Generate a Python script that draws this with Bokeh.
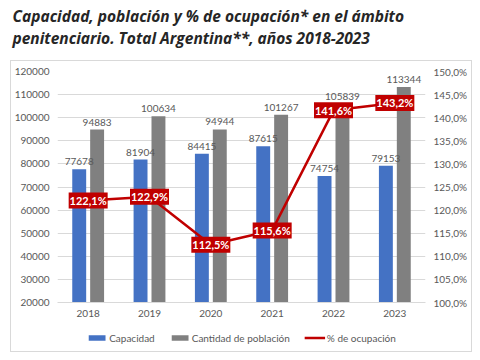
from bokeh.plotting import figure
from bokeh.layouts import column
from bokeh.models import (ColumnDataSource, FactorRange, Range1d, LinearAxis, FixedTicker,
                          Legend, LegendItem, Label, Column)
from bokeh.transform import dodge
from bokeh.core.properties import value
from bokeh.embed import file_html
from bokeh.resources import INLINE

years = ["2018", "2019", "2020", "2021", "2022", "2023"]
capacidad = [77678, 81904, 84415, 87615, 74754, 79153]
poblacion = [94883, 100634, 94944, 101267, 105839, 113344]
ocupacion = [122.1, 122.9, 112.5, 115.6, 141.6, 143.2]
left_ticks = [20000, 30000, 40000, 50000, 60000, 70000, 80000, 90000, 100000, 110000, 120000]
right_ticks = [100, 105, 110, 115, 120, 125, 130, 135, 140, 145, 150]
title_lines = ["Capacidad, población y % de ocupación* en el ámbito",
               "penitenciario. Total Argentina**, años 2018-2023"]
series_names = ["Capacidad", "Cantidad de población", "% de ocupación"]

BLUE = "#4472C4"
GRAY = "#808080"
RED = "#C00000"
TXT = "#595959"
FONT = "Lato"


def bare(fig):
    fig.grid.visible = False
    fig.outline_line_color = None
    fig.background_fill_color = None
    fig.border_fill_color = None
    return fig


def style_axis(ax, standoff):
    ax.major_tick_line_color = None
    ax.minor_tick_line_color = None
    ax.major_tick_out = 0
    ax.major_tick_in = 0
    ax.minor_tick_out = 0
    ax.minor_tick_in = 0
    ax.major_label_standoff = standoff
    ax.major_label_text_font = FONT
    ax.major_label_text_font_size = "10px"
    ax.major_label_text_color = TXT


# ---- heading figure (titles) ----
head = bare(figure(width=480, height=60, x_range=Range1d(0, 480), y_range=Range1d(60, 0),
                   output_backend="svg", toolbar_location=None,
                   min_border=0, min_border_left=0, min_border_right=0,
                   min_border_top=0, min_border_bottom=0,
                   x_axis_location=None, y_axis_location=None))
for i, t in enumerate(title_lines):
    head.add_layout(Label(x=12, y=15 + 22 * i, text=t,
                          text_font="Open Sans", text_font_size="15.5px",
                          text_font_style="bold italic",
                          text_color="#262626", text_baseline="middle", text_align="left"))

# ---- main chart ----
src = ColumnDataSource(dict(
    year=years, cap=capacidad, pob=poblacion, pct=ocupacion,
    cap_s=[str(v) for v in capacidad], pob_s=[str(v) for v in poblacion],
    pct_s=[("%.1f%%" % v).replace(".", ",") for v in ocupacion],
))

p = figure(x_range=FactorRange(*years), y_range=Range1d(20000, 120000),
           width=460, height=263, output_backend="svg", toolbar_location=None,
           min_border_left=44, min_border_right=46, min_border_top=10, min_border_bottom=22)
p.extra_y_ranges = {"pct": Range1d(100, 150)}
p.outline_line_color = None
p.background_fill_color = None

p.yaxis.ticker = FixedTicker(ticks=left_ticks)
p.yaxis.axis_line_color = None
p.yaxis.major_label_overrides = {t: str(t) for t in left_ticks}
style_axis(p.yaxis[0], 8)

ra = LinearAxis(y_range_name="pct", ticker=FixedTicker(ticks=right_ticks))
ra.major_label_overrides = {t: ("%.1f%%" % t).replace(".", ",") for t in right_ticks}
ra.axis_line_color = None
style_axis(ra, 8)
p.add_layout(ra, "right")

p.xaxis.axis_line_color = "#d9d9d9"
style_axis(p.xaxis[0], 7)

p.xgrid.grid_line_color = None
p.ygrid.grid_line_color = "#d9d9d9"

p.vbar(x=dodge("year", -0.146, range=p.x_range), top="cap", bottom=20000, width=0.227,
       source=src, fill_color=BLUE, line_color=None)
p.vbar(x=dodge("year", 0.146, range=p.x_range), top="pob", bottom=20000, width=0.227,
       source=src, fill_color=GRAY, line_color=None)
for col, off in (("cap", -0.146), ("pob", 0.146)):
    p.text(x=dodge("year", off, range=p.x_range), y=col, text=col + "_s", source=src,
           text_align="center", text_baseline="bottom", y_offset=-4,
           text_font=value(FONT), text_font_size="10px", text_color=TXT)

p.line(x="year", y="pct", source=src, y_range_name="pct", line_color=RED, line_width=2.5)
p.rect(x="year", y="pct", width=39, height=16, width_units="screen", height_units="screen",
       source=src, y_range_name="pct", fill_color=RED, line_color=None)
p.text(x="year", y="pct", text="pct_s", source=src, y_range_name="pct",
       text_align="center", text_baseline="middle", text_font=value(FONT),
       text_font_size="11px", text_font_style="bold", text_color="white")

# ---- legend strip (swatch renderers sit outside the visible range) ----
leg = bare(figure(width=460, height=27, x_range=Range1d(0, 1), y_range=Range1d(0, 1),
                  output_backend="svg", toolbar_location=None,
                  min_border=0, min_border_left=0, min_border_right=0,
                  min_border_top=0, min_border_bottom=0,
                  x_axis_location=None, y_axis_location=None))
l_cap = leg.vbar(x=[-5], top=[-5], bottom=[-6], width=0.1, fill_color=BLUE, line_color=None)
l_pob = leg.vbar(x=[-5], top=[-5], bottom=[-6], width=0.1, fill_color=GRAY, line_color=None)
l_line = leg.line(x=[-5, -4], y=[-5, -5], line_color=RED, line_width=2.5)
legend = Legend(items=[LegendItem(label=series_names[0], renderers=[l_cap]),
                       LegendItem(label=series_names[1], renderers=[l_pob]),
                       LegendItem(label=series_names[2], renderers=[l_line])],
                orientation="horizontal", location="center",
                label_text_font=FONT, label_text_font_size="10px", label_text_color=TXT,
                glyph_width=21, glyph_height=7, label_standoff=2, spacing=14,
                padding=0, margin=0, border_line_color=None, background_fill_alpha=0)
leg.add_layout(legend)

box = Column(children=[p, leg],
             styles={"border": "1px solid #d9d9d9", "margin-left": "10px"})
layout = column(head, box)
open("out.html", "w").write(file_html(layout, INLINE))
